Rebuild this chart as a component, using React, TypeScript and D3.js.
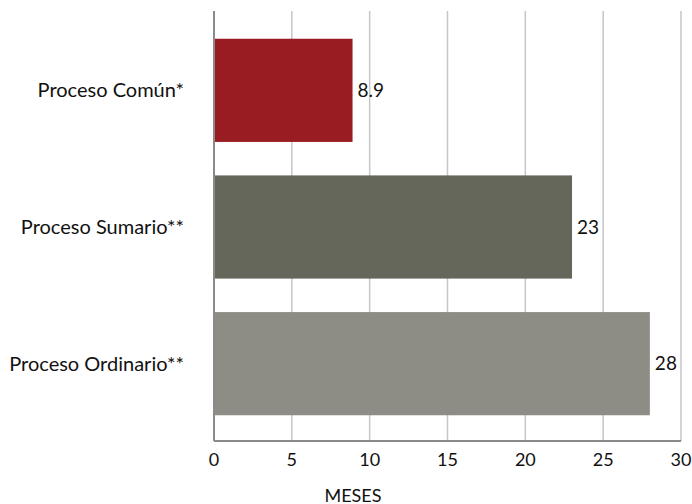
import React from "react";
import * as d3 from "d3";

const categories = ["Proceso Común*", "Proceso Sumario**", "Proceso Ordinario**"];
const values = [8.9, 23, 28];
const valueLabels = ["8.9", "23", "28"];
const barColors = ["#981c21", "#646759", "#8e8d85"];
const xTicks = [0, 5, 10, 15, 20, 25, 30];
const axisTitle = "MESES";

export default function App() {
  const width = 692;
  const height = 504;
  const left = 214;
  const right = 681;
  const top = 11;
  const bottom = 441;

  const x = d3.scaleLinear().domain([0, 30]).range([left, right]);
  const y = d3
    .scaleBand<string>()
    .domain(categories)
    .range([22, 432])
    .paddingInner(0.245)
    .paddingOuter(0.1225);

  const font = "Lato, 'Open Sans', sans-serif";

  return (
    <svg
      width={width}
      height={height}
      style={{ position: "absolute", left: 0, top: 0, background: "#fff" }}
      fontFamily={font}
    >
      {xTicks.slice(1).map((t) => (
        <line
          key={"g" + t}
          x1={x(t)}
          x2={x(t)}
          y1={top}
          y2={bottom}
          stroke="#c6c6ca"
          strokeWidth={1.5}
        />
      ))}
      {categories.map((c, i) => (
        <rect
          key={c}
          x={x(0)}
          y={y(c)}
          width={x(values[i]) - x(0)}
          height={y.bandwidth()}
          fill={barColors[i]}
        />
      ))}
      <line x1={left} x2={left} y1={top} y2={bottom} stroke="#8a8a8a" strokeWidth={2} />
      <line x1={left} x2={right} y1={bottom} y2={bottom} stroke="#8a8a8a" strokeWidth={2} />
      {categories.map((c, i) => (
        <text
          key={"v" + c}
          x={x(values[i]) + 5}
          y={(y(c) as number) + y.bandwidth() / 2}
          dy="0.35em"
          fontSize={19}
          fill="#111"
        >
          {valueLabels[i]}
        </text>
      ))}
      {categories.map((c) => (
        <text
          key={"l" + c}
          x={184}
          y={(y(c) as number) + y.bandwidth() / 2}
          dy="0.35em"
          textAnchor="end"
          fontSize={20}
          fill="#111"
        >
          {c}
        </text>
      ))}
      {xTicks.map((t) => (
        <text
          key={"t" + t}
          x={x(t)}
          y={465.5}
          textAnchor="middle"
          fontSize={18}
          fill="#111"
        >
          {t}
        </text>
      ))}
      <text x={353} y={501.5} textAnchor="middle" fontSize={18} fill="#111">
        {axisTitle}
      </text>
    </svg>
  );
}
